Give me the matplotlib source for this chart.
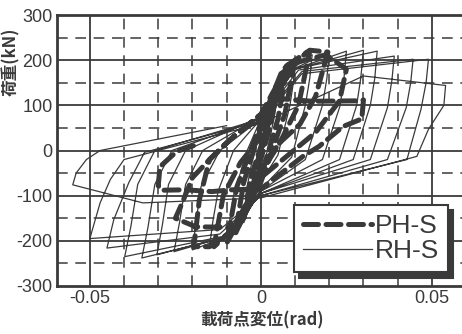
import numpy as np
import matplotlib
matplotlib.use("Agg")
import matplotlib.pyplot as plt
from matplotlib.ticker import MultipleLocator

plt.rcParams['font.family'] = ['Liberation Sans Narrow', 'Liberation Sans', 'DejaVu Sans']
plt.rcParams['axes.unicode_minus'] = False

# RH-S : peaks of each cycle (rad, kN)
rh_pos_x = [0.005, 0.010, 0.015, 0.020, 0.025, 0.030, 0.034, 0.039, 0.0445, 0.049, 0.054]
rh_pos_y = [150, 195, 212, 218, 220, 222, 220, 209, 202, 202, 144]
rh_neg_x = [-0.005, -0.010, -0.015, -0.020, -0.0254, -0.0304, -0.0348, -0.0398, -0.045, -0.050, -0.055]
rh_neg_y = [-160, -198, -212, -220, -224, -231, -238, -235, -216, -195, -76]
# pinching points and reloading points
rh_pin_pos_y = [40, 60, 70, 70, 70, 75, 75, 70, 70, 65, 60]
rh_env_pos_x = [0.003, 0.006, 0.007, 0.008, 0.009, 0.010, 0.010, 0.011, 0.012, 0.012, 0.030]
rh_env_pos_y = [110, 160, 170, 175, 178, 180, 180, 178, 175, 170, 165]
rh_pin_neg_y = [-40, -70, -85, -90, -90, -95, -95, -95, -100, -100, -105]
rh_env_neg_x = [-0.003, -0.006, -0.007, -0.008, -0.009, -0.010, -0.010, -0.011, -0.012, -0.012, -0.0345]
rh_env_neg_y = [-120, -170, -180, -185, -188, -190, -192, -190, -185, -175, -116]
# unloading branches (near peak, middle, end)
rh_pos_q_x = [0.0047, 0.0095, 0.0143, 0.0193, 0.0243, 0.0292, 0.0333, 0.0383, 0.0438, 0.0483, 0.0535]
rh_pos_q_y = [120, 150, 160, 160, 160, 160, 160, 155, 150, 150, 100]
rh_pos_mid_x = [0.004, 0.0085, 0.013, 0.018, 0.0232, 0.028, 0.032, 0.037, 0.0425, 0.0468, 0.049]
rh_pos_mid_y = [80, 100, 100, 100, 100, 100, 100, 95, 95, 91, 47]
rh_pos_unl_x = [0.002, 0.005, 0.009, 0.013, 0.018, 0.023, 0.027, 0.032, 0.037, 0.0427, 0.0456]
rh_pos_unl_y = [0, -10, -15, -20, -20, -20, -20, -20, -20, -20, -13]
rh_neg_q_x = [-0.0045, -0.009, -0.014, -0.019, -0.0238, -0.0288, -0.0330, -0.0380, -0.043, -0.047, -0.054]
rh_neg_q_y = [-120, -150, -155, -160, -160, -165, -170, -168, -153, -116, -50]
rh_neg_mid_x = [-0.004, -0.008, -0.0125, -0.0175, -0.022, -0.027, -0.031, -0.036, -0.0386, -0.044, -0.051]
rh_neg_mid_y = [-80, -100, -90, -80, -75, -75, -75, -75, -71, -64, -20]
rh_neg_unl_x = [-0.002, -0.004, -0.008, -0.012, -0.017, -0.022, -0.026, -0.031, -0.034, -0.040, -0.047]
rh_neg_unl_y = [0, 0, 0, 0, 0, 0, 0, 0, -4, -20, 0]

# PH-S : traced path
ph_x = [0.0, 0.0025, 0.0015, -0.0025, -0.0015,
        0.005, 0.003, -0.005, -0.003,
        0.0075, 0.005, 0.0, -0.0075, -0.005, 0.0,
        0.010, 0.007, 0.0, -0.010, -0.007, 0.0,
        0.0064, 0.0143, 0.011, 0.0056, 0.0, -0.006, -0.0137, -0.011, -0.006, 0.0,
        0.007, 0.0143, 0.0196, 0.016, 0.0114, 0.0056, 0.0, -0.0067, -0.015, -0.0196, -0.018, -0.015, -0.009, 0.0,
        0.008, 0.019, 0.025, 0.023, 0.016, 0.0, -0.008, -0.019, -0.025, -0.023, -0.020, -0.015, -0.009, 0.0,
        0.005, 0.015, 0.029, 0.030, 0.0295, 0.024, 0.017, 0.0123, 0.0, -0.0085, -0.0143, -0.022, -0.029,
        -0.030, -0.0295, -0.0246, -0.018]
ph_y = [0, 95, 40, -95, -40,
        150, 60, -150, -60,
        180, 70, -60, -185, -70, 50,
        200, 80, -70, -205, -80, 60,
        180, 220, 100, 18, -50, -160, -213, -100, -27, 30,
        185, 222, 218, 120, 58, 18, -40, -169, -213, -213, -110, -20, 24, 80,
        190, 212, 180, 110, 40, -60, -170, -169, -150, -116, -60, -20, 24, 80,
        115, 109, 110, 112, 70, 53, 9, -13, -85, -87, -91, -87, -88,
        -78, -36, -2, 15]

xlim = (-0.0596, 0.0588)
ylim = (-300, 300)

# assemble RH-S vertices from the cycle points
rh_x, rh_y = [0.0], [0.0]
for k in range(len(rh_pos_x)):
    rh_x += [0.0, rh_env_pos_x[k], rh_pos_x[k], rh_pos_q_x[k], rh_pos_mid_x[k], rh_pos_unl_x[k],
             0.0, rh_env_neg_x[k], rh_neg_x[k], rh_neg_q_x[k], rh_neg_mid_x[k], rh_neg_unl_x[k]]
    rh_y += [rh_pin_pos_y[k], rh_env_pos_y[k], rh_pos_y[k], rh_pos_q_y[k], rh_pos_mid_y[k], rh_pos_unl_y[k],
             rh_pin_neg_y[k], rh_env_neg_y[k], rh_neg_y[k], rh_neg_q_y[k], rh_neg_mid_y[k], rh_neg_unl_y[k]]
rh_x += [-0.01]
rh_y += [55]

ink = '#3a3a3a'

fig = plt.figure(figsize=(4.62, 3.34), dpi=100)
ax = fig.add_axes([57 / 462, 1 - 286 / 334, 1 - 57 / 462, 271 / 334])
ax.set_xlim(xlim)
ax.set_ylim(ylim)

# grid
for gx in [-0.05, 0, 0.05]:
    ax.axvline(gx, color=ink, lw=1.3, zorder=1)
for gx in [-0.04, -0.03, -0.02, -0.01, 0.01, 0.02, 0.03, 0.04]:
    ax.axvline(gx, color=ink, lw=1.1, ls=(0, (7, 5)), zorder=1)
for gy in [-200, -100, 0, 100, 200]:
    ax.axhline(gy, color=ink, lw=1.3, zorder=1)
for gy in [-250, -150, -50, 50, 150, 250]:
    ax.axhline(gy, color=ink, lw=1.1, ls=(0, (7, 5)), zorder=1)

ax.plot(rh_x, rh_y, color=ink, lw=0.9, zorder=3, label='RH-S')
ax.plot(ph_x, ph_y, color=ink, lw=3.6, ls=(0, (3, 1.5)), dash_capstyle='round',
        zorder=4, label='PH-S')

ax.yaxis.set_major_locator(MultipleLocator(100))
ax.set_xticks([-0.05, 0, 0.05])
ax.set_xticklabels(['-0.05', '0', '0.05'])
ax.tick_params(length=0, labelsize=13, colors=ink, pad=3)
for s in ['left', 'bottom', 'top']:
    ax.spines[s].set_linewidth(2.0)
    ax.spines[s].set_color(ink)
ax.spines['right'].set_visible(False)

h, l = ax.get_legend_handles_labels()
leg = ax.legend(h[::-1], l[::-1], loc='lower left', bbox_to_anchor=(0.585, 0.05),
                fontsize=19, frameon=True, fancybox=False,
                shadow={'color': ink, 'alpha': 1.0, 'ox': 4, 'oy': -4},
                handlelength=2.6, handletextpad=0.1, labelspacing=0.05,
                borderpad=0.35, borderaxespad=0)
leg.get_frame().set_edgecolor(ink)
leg.get_frame().set_linewidth(1.5)
for t in leg.get_texts():
    t.set_color(ink)

jp = ['Noto Sans CJK JP', 'DejaVu Sans']
fig.text(11 / 462, 1 - 62 / 334, '荷重(kN)', rotation=90, ha='center', va='center',
         fontsize=12, family=jp, weight='bold', color=ink)
fig.text(262 / 462, 1 - 320 / 334, '載荷点変位(rad)', ha='center', va='center',
         fontsize=12, family=jp, weight='bold', color=ink)

fig.savefig('out.png', dpi=100)
